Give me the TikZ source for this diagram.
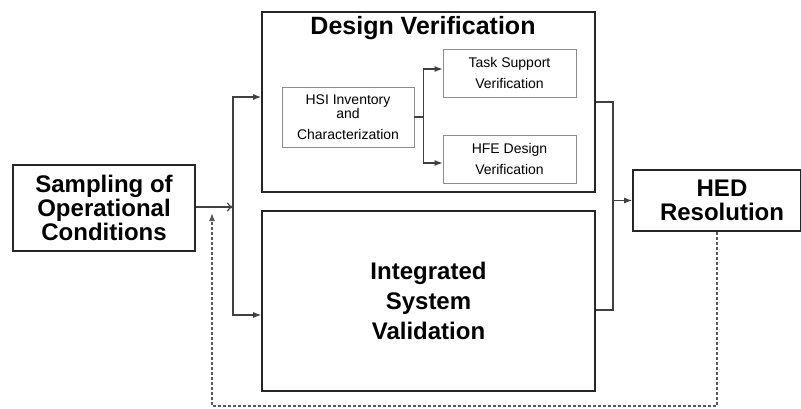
\documentclass[tikz,border=0pt]{standalone}
\usepackage{fontspec}
\setmainfont{Liberation Sans}
\usepackage{tikz}
\usetikzlibrary{arrows.meta,positioning}

\begin{document}
\begin{tikzpicture}[x=1pt,y=-1pt,
    bigbox/.style={draw=black!85,line width=1.6pt,align=center,inner sep=0pt,
        font=\fontsize{24}{24}\selectfont\bfseries},
    subbox/.style={draw=black!45,line width=0.8pt,align=center,inner sep=0pt,
        font=\fontsize{14}{21}\selectfont},
    link/.style={draw=black!75,line width=1.2pt},
    tip/.style={-{Latex[length=8pt,width=6pt]}},
    back/.style={draw=black!65,line width=1.1pt,dash pattern=on 3pt off 2pt}]
\useasboundingbox (0,0) rectangle (801,409);
\node[bigbox,minimum width=182pt,minimum height=86pt] (samp) at (104,208)
    {Sampling of\\Operational\\Conditions};
\node[bigbox,minimum width=333pt,minimum height=180pt] (dv) at (428.5,102) {};
\node[font=\fontsize{25}{24}\selectfont\bfseries] (dvtitle) at (423,28) {Design Verification};
\node[subbox,minimum width=132pt,minimum height=60pt] (hsi) at (348,117)
    {HSI Inventory\\[-7pt]and\\Characterization};
\node[subbox,minimum width=133pt,minimum height=48pt] (task) at (509.5,73)
    {Task Support\\Verification};
\node[subbox,minimum width=133pt,minimum height=48pt] (hfe) at (509.5,159)
    {HFE Design\\Verification};
\node[bigbox,minimum width=333pt,minimum height=180pt,
    font=\fontsize{24}{30}\selectfont\bfseries] (isv) at (428.5,301)
    {Integrated\\System\\Validation};
\node[bigbox,minimum width=168pt,minimum height=61pt] (hed) at (717,200.5)
    {\hspace*{10pt}HED\\\hspace*{10pt}Resolution};
\coordinate (split) at (233,207);
\coordinate (join) at (613,200.5);
\coordinate (fb) at (212,213);
% forward flow
\draw[link,-{To[length=6pt,width=9pt]}] (samp.east |- split) -- (split);
\draw[link,tip] (split) |- ([yshift=5pt]dv.west);
\draw[link,tip] (split) |- ([yshift=-14pt]isv.west);
\draw[link,tip] (hsi.east) -- ++(9,0) |- ([yshift=4pt]task.west);
\draw[link,tip] (hsi.east) -- ++(9,0) |- ([yshift=-4pt]hfe.west);
\draw[link] (dv.east) -| (join);
\draw[link] ([yshift=-9pt]isv.east) -| (join);
\draw[link,tip] (join) -- (hed.west);
% feedback
\draw[back,tip] (hed.south) -- (hed.south |- 0,406) -| (fb);
\end{tikzpicture}
\end{document}
